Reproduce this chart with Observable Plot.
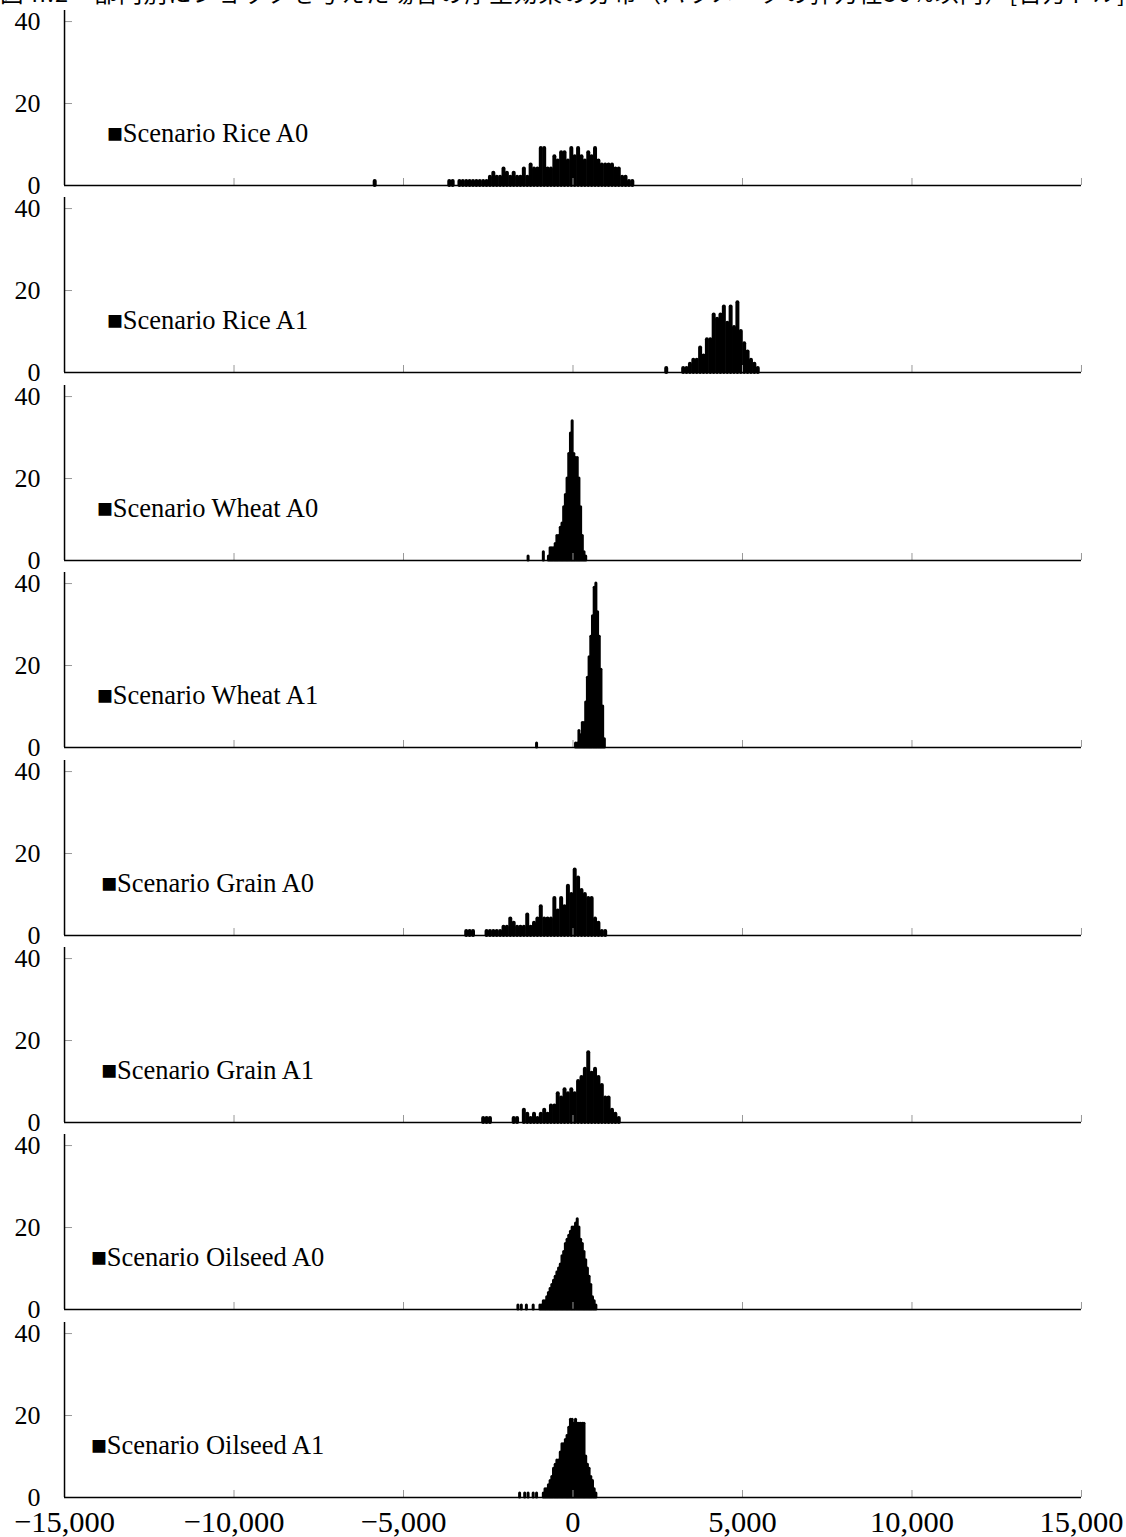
<!DOCTYPE html>
<html><head><meta charset="utf-8">
<script src="https://cdn.jsdelivr.net/npm/d3@7"></script>
<script src="https://cdn.jsdelivr.net/npm/@observablehq/plot@0.6"></script>
<style>
html,body{margin:0;padding:0;background:#fff}
body{width:1126px;height:1537px;overflow:hidden;position:relative}
#title{position:absolute;top:-21px;left:0;z-index:2;font-family:"Noto Sans CJK JP";font-size:23.5px;line-height:26px;letter-spacing:1.2px;white-space:nowrap;color:#000}
#charts{position:absolute;top:0;left:0;z-index:1}
svg{display:block}
</style></head><body>
<div id="title">図 II.2　部門別にショックを与えた場合の厚生効果の分布（パラメータの弾力性50%以内）[百万ドル]</div>
<div id="charts"></div>
<script>
const xDomain = [-15000, 15000];
const xTicks = [-15000, -10000, -5000, 0, 5000, 10000, 15000];
const yTicks = [0, 20, 40];
const yMax = 42.7;
const scenarioLabels = ["Scenario Rice A0","Scenario Rice A1","Scenario Wheat A0","Scenario Wheat A1","Scenario Grain A0","Scenario Grain A1","Scenario Oilseed A0","Scenario Oilseed A1"];
const binWidths = [100, 100, 50, 50, 100, 100, 50, 50];

// [bin centre, count]
const riceA0 = [[-5850,1],[-3650,1],[-3550,1],[-3350,1],[-3250,1],[-3150,1],[-3050,1],[-2950,1],[-2850,1],[-2750,1],[-2650,1],[-2550,1],
 [-2450,2],[-2350,3],[-2250,2],[-2150,2],[-2050,4],[-1950,3],[-1850,2],[-1750,3],[-1650,2],[-1550,2],[-1450,4],[-1350,2],[-1250,5],[-1150,4],[-1050,4],
 [-950,9],[-850,9],[-750,4],[-650,4],[-550,7],[-450,6],[-350,8],[-250,8],[-150,6],[-50,9],[50,7],[150,9],[250,7],[350,6],[450,8],[550,7],[650,9],
 [750,6],[850,5],[950,5],[1050,5],[1150,5],[1250,4],[1350,4],[1450,2],[1550,2],[1650,1],[1750,1]];
const riceA1 = [[2750,1],[3250,1],[3350,1],[3450,2],[3550,3],[3650,3],[3750,6],[3850,4],[3950,8],[4050,8],[4150,14],[4250,13],[4350,14],[4450,16],
 [4550,12],[4650,16],[4750,11],[4850,17],[4950,10],[5050,7],[5150,5],[5250,3],[5350,2],[5450,1]];
const wheatA0 = [[-1325,1],[-875,2],[-725,1],[-675,3],[-625,3],[-575,3],[-525,4],[-475,6],[-425,6],[-375,8],[-325,9],[-275,13],[-225,16],[-175,20],
 [-125,26],[-75,31],[-25,34],[25,26],[75,25],[125,25],[175,20],[225,13],[275,6],[325,2],[375,1]];
const wheatA1 = [[-1075,1],[75,1],[125,1],[175,4],[225,3],[275,6],[325,6],[375,11],[425,17],[475,22],[525,27],[575,32],[625,39],[675,40],[725,33],
 [775,27],[825,19],[875,10],[925,2]];
const grainA0 = [[-3150,1],[-3050,1],[-2950,1],[-2550,1],[-2450,1],[-2350,1],[-2250,1],[-2150,1],[-2050,2],[-1950,2],[-1850,4],[-1750,3],[-1650,2],
 [-1550,2],[-1450,2],[-1350,5],[-1250,2],[-1150,3],[-1050,4],[-950,7],[-850,4],[-750,4],[-650,4],[-550,9],[-450,6],[-350,9],[-250,7],[-150,12],
 [-50,10],[50,16],[150,14],[250,11],[350,10],[450,9],[550,9],[650,4],[750,3],[850,1],[950,1]];
const grainA1 = [[-2650,1],[-2550,1],[-2450,1],[-1750,1],[-1650,1],[-1450,3],[-1350,2],[-1250,1],[-1150,2],[-1050,1],[-950,2],[-850,3],[-750,2],
 [-650,4],[-550,4],[-450,7],[-350,6],[-250,8],[-150,7],[-50,8],[50,7],[150,10],[250,11],[350,13],[450,17],[550,12],[650,13],[750,11],[850,9],
 [950,6],[1050,6],[1150,3],[1250,2],[1350,1]];
const oilseedA0 = [[-1625,1],[-1525,1],[-1375,1],[-1175,1],[-975,1],[-925,1],[-875,2],[-825,2],[-775,3],[-725,4],[-675,5],[-625,6],[-575,7],[-525,8],
 [-475,9],[-425,10],[-375,11],[-325,13],[-275,14],[-225,16],[-175,17],[-125,18],[-75,19],[-25,20],[25,20],[75,21],[125,22],[175,20],[225,17],
 [275,16],[325,14],[375,12],[425,10],[475,8],[525,6],[575,3],[625,2],[675,1]];
const oilseedA1 = [[-1575,1],[-1425,1],[-1325,1],[-1175,1],[-1075,1],[-875,1],[-825,2],[-775,2],[-725,3],[-675,4],[-625,5],[-575,7],[-525,8],
 [-475,9],[-425,9],[-375,11],[-325,13],[-275,13],[-225,14],[-175,15],[-125,17],[-75,19],[-25,19],[25,18],[75,19],[125,18],[175,18],[225,18],
 [275,18],[325,18],[375,10],[425,8],[475,7],[525,5],[575,4],[625,2],[675,1]];

const panels = [riceA0, riceA1, wheatA0, wheatA1, grainA0, grainA1, oilseedA0, oilseedA1];

const panelH = 187.4;
const container = document.getElementById("charts");
panels.forEach((bins, i) => {
  const last = i === panels.length - 1;
  const data = bins.map(([x, n]) => ({x, n}));
  const chart = Plot.plot({
    width: 1126,
    height: last ? panelH + 40 : panelH,
    marginLeft: 64,
    marginRight: 45,
    marginTop: 10,
    marginBottom: last ? 42.4 : 2.4,
    x: {domain: xDomain},
    y: {domain: [0, yMax]},
    style: {fontFamily: "'Liberation Serif', 'DejaVu Sans', serif", background: "transparent", color: "black", overflow: "visible"},
    marks: [
      Plot.ruleX(data, {x: "x", y1: 0, y2: "n", stroke: "black", strokeWidth: binWidths[i] === 100 ? 4 : 3, strokeLinecap: "round"}),
      Plot.axisX(xTicks, {label: null, tickSize: -7, tickPadding: 20, stroke: "#999", fill: "black", fontSize: 30.5,
        tickFormat: last ? (d => d3.format(",")(d).replace("-", "\u2212")) : () => ""}),
      Plot.axisY(yTicks, {label: null, tickSize: -8, tickPadding: 32, stroke: "#999", fill: "black", fontSize: 26}),
      Plot.ruleY([0], {stroke: "black", strokeWidth: 1.5}),
      Plot.ruleX([xDomain[0]], {stroke: "black", strokeWidth: 1.5}),
      Plot.text([scenarioLabels[i]], {text: d => "\u25A0" + d, frameAnchor: "bottom-left", dx: 143, dy: -43, textAnchor: "middle", fontSize: 26.5, fill: "black"})
    ]
  });
  container.appendChild(chart);
});
</script>
</body></html>
